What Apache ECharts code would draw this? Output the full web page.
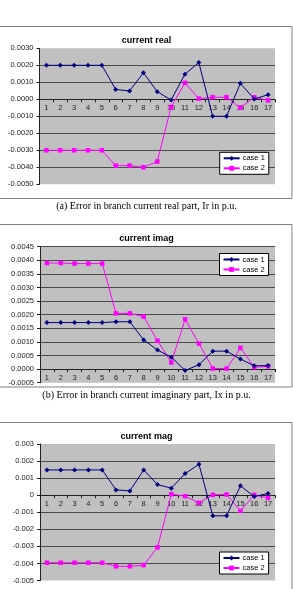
<!DOCTYPE html>
<html>
<head>
<meta charset="utf-8">
<script src="https://cdn.jsdelivr.net/npm/echarts@6/dist/echarts.min.js"></script>
<style>
html,body{margin:0;padding:0;background:#fff;}
#c{width:293px;height:589px;}
</style>
</head>
<body>
<div id="c"></div>
<script>
// ---- data ----
const categories = ['1','2','3','4','5','6','7','8','9','10','11','12','13','14','15','16','17'];
const seriesNames = ['case 1', 'case 2'];
const chartTitles = ['current real', 'current imag', 'current mag'];
const captions = [
  '(a) Error in branch current real part, Ir in p.u.',
  '(b) Error in branch current imaginary part, Ix in p.u.'
];

const realCase1 = [0.0020,0.0020,0.0020,0.0020,0.0020,0.00058,0.00049,0.00156,0.00045,-0.00004,0.00148,0.00216,-0.0010,-0.0010,0.00094,0.00002,0.00027];
const realCase2 = [-0.0030,-0.0030,-0.0030,-0.0030,-0.0030,-0.0039,-0.0039,-0.0040,-0.00366,-0.00045,0.00097,0.00004,0.00012,0.00012,-0.00049,0.00012,-0.00006];

const imagCase1 = [0.00171,0.00171,0.00171,0.00171,0.00171,0.00174,0.00174,0.00107,0.00070,0.00044,-0.00005,0.00016,0.00066,0.00066,0.00037,0.00012,0.00013];
const imagCase2 = [0.00390,0.00390,0.00388,0.00388,0.00388,0.00205,0.00205,0.00193,0.00104,0.00024,0.00183,0.00094,0.00002,0.00002,0.00078,0.00007,0.00010];

const magCase1 = [0.00148,0.00148,0.00148,0.00148,0.00148,0.00031,0.00025,0.00148,0.00062,0.00041,0.00127,0.00181,-0.00121,-0.00121,0.00055,-0.00008,0.00010];
const magCase2 = [-0.00396,-0.00396,-0.00396,-0.00396,-0.00396,-0.00417,-0.00417,-0.00410,-0.00306,0.00006,-0.00006,-0.00045,0.00002,0.00004,-0.00092,0.00002,-0.00016];

const realTicks = ['0.0030','0.0020','0.0010','0.0000','-0.0010','-0.0020','-0.0030','-0.0040','-0.0050'];
const imagTicks = ['0.0045','0.0040','0.0035','0.0030','0.0025','0.0020','0.0015','0.0010','0.0005','0.0000','-0.0005'];
const magTicks = ['0.003','0.002','0.001','0','-0.001','-0.002','-0.003','-0.004','-0.005'];

// ---- chart ----
const FONT = 'Liberation Sans, Arial, sans-serif';
const chart = echarts.init(document.getElementById('c'), null, {renderer: 'canvas'});

function tickFmt(labels) {
  return function (v) {
    const f = labels.find(function (l) { return Math.abs(parseFloat(l) - v) < 1e-9; });
    return f === undefined ? '' : f;
  };
}
function tickRange(labels) {
  const nums = labels.map(parseFloat);
  const max = Math.max.apply(null, nums), min = Math.min.apply(null, nums);
  return {min: min, max: max, interval: (max - min) / (labels.length - 1)};
}

const grids = [
  {left: 39.5, top: 48.3, width: 235.5, height: 136},
  {left: 40, top: 246.7, width: 235, height: 136},
  {left: 40, top: 444, width: 235, height: 136.5}
];
const tickSets = [realTicks, imagTicks, magTicks];
const dataSets = [[realCase1, realCase2], [imagCase1, imagCase2], [magCase1, magCase2]];
const titleTops = [36, 234.5, 432];
const legendPos = [
  {left: 219.7, top: 152.3},
  {left: 219.5, top: 253.5},
  {left: 219.5, top: 552}
];
const frames = [
  {y: 26.5, h: 172},
  {y: 224.5, h: 162.5},
  {y: 422.5, h: 200}
];
const captionY = [206, 395];

const option = {
  animation: false,
  backgroundColor: '#fff',
  title: chartTitles.map(function (t, i) {
    return {
      text: t, left: 'center', top: titleTops[i], padding: 0,
      textStyle: {fontFamily: FONT, fontSize: 9, fontWeight: 'bold', color: '#000'}
    };
  }),
  grid: grids.map(function (g) {
    return Object.assign({show: true, backgroundColor: '#c0c0c0', borderWidth: 0, containLabel: false}, g);
  }),
  legend: legendPos.map(function (p) {
    return {
      data: seriesNames, orient: 'vertical', left: p.left, top: p.top,
      padding: [2, 4, 2, 3], itemGap: 2, itemWidth: 16, itemHeight: 6,
      backgroundColor: '#fff', borderColor: '#000', borderWidth: 1, borderRadius: 0,
      textStyle: {fontFamily: FONT, fontSize: 7.5, color: '#000', padding: [0, 0, 0, -2]},
      selectedMode: false
    };
  }),
  xAxis: grids.map(function (g, i) {
    // place the category axis (line, ticks, labels) on the value axis' zero line
    const r = tickRange(tickSets[i]);
    const zeroFromBottom = g.height * (0 - r.min) / (r.max - r.min);
    return {
      type: 'category', gridIndex: i, data: categories, boundaryGap: true,
      position: 'bottom', offset: -zeroFromBottom,
      axisLine: {show: true, onZero: false, lineStyle: {color: '#222', width: 1}},
      axisTick: {show: true, length: 3, inside: false, lineStyle: {color: '#222'}},
      axisLabel: {fontFamily: FONT, fontSize: 7.5, color: '#222', margin: 5, interval: 0},
      splitLine: {show: false}
    };
  }),
  yAxis: tickSets.map(function (ticks, i) {
    const r = tickRange(ticks);
    return {
      type: 'value', gridIndex: i, min: r.min, max: r.max, interval: r.interval,
      axisLine: {show: true, onZero: false, lineStyle: {color: '#222', width: 1}},
      axisTick: {show: true, length: 3, lineStyle: {color: '#222'}},
      axisLabel: {fontFamily: FONT, fontSize: 7.5, color: '#222', margin: 6, formatter: tickFmt(ticks)},
      splitLine: {show: true, showMinLine: false, showMaxLine: false, lineStyle: {color: '#4a4a4a', width: 1}}
    };
  }),
  series: [],
  graphic: []
};

dataSets.forEach(function (pair, i) {
  option.series.push({
    name: seriesNames[0], type: 'line', xAxisIndex: i, yAxisIndex: i, data: pair[0],
    symbol: 'diamond', symbolSize: 5, lineStyle: {color: '#000080', width: 1},
    itemStyle: {color: '#000080'}, z: 3
  });
  option.series.push({
    name: seriesNames[1], type: 'line', xAxisIndex: i, yAxisIndex: i, data: pair[1],
    symbol: 'rect', symbolSize: 4.5, lineStyle: {color: '#ff00ff', width: 1},
    itemStyle: {color: '#ff00ff'}, z: 2
  });
});

frames.forEach(function (f) {
  option.graphic.push({
    type: 'rect', silent: true, z: -10,
    shape: {x: -1.5, y: f.y, width: 293.5, height: f.h},
    style: {fill: null, stroke: '#808080', lineWidth: 1}
  });
});
captions.forEach(function (c, i) {
  option.graphic.push({
    type: 'text', silent: true, x: 146.5, y: captionY[i],
    style: {text: c, fill: '#000', font: '10px "Liberation Serif", "Times New Roman", serif',
            textAlign: 'center', textVerticalAlign: 'middle'}
  });
});

chart.setOption(option);
</script>
</body>
</html>
